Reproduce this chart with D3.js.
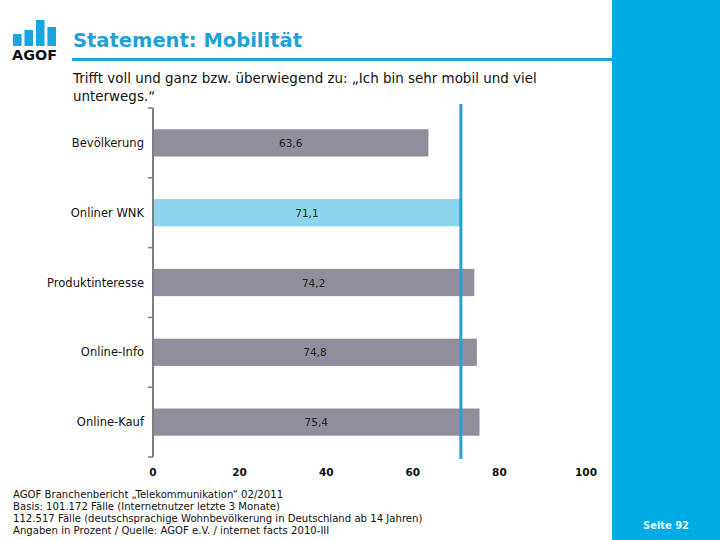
<!DOCTYPE html>
<html><head><meta charset="utf-8">
<script src="https://cdn.jsdelivr.net/npm/d3@7"></script>
<style>body{margin:0;background:#fff}svg{display:block}</style>
</head><body>
<script>
const categories = ["Bevölkerung","Onliner WNK","Produktinteresse","Online-Info","Online-Kauf"];
const values = [63.6, 71.1, 74.2, 74.8, 75.4];
const valueLabels = ["63,6","71,1","74,2","74,8","75,4"];
const highlight = "Onliner WNK";
const referenceValue = 71.1;
const xTicks = [0,20,40,60,80,100];
const logoBars = [12, 16, 26, 19];
const footerLines = [
  "AGOF Branchenbericht \u201ETelekommunikation\u201C 02/2011",
  "Basis: 101.172 F\u00e4lle (Internetnutzer letzte 3 Monate)",
  "112.517 F\u00e4lle (deutschsprachige Wohnbev\u00f6lkerung in Deutschland ab 14 Jahren)",
  "Angaben in Prozent /  Quelle: AGOF e.V. / internet facts 2010-III"
];

const W = 720, H = 540;
const svg = d3.select("body").append("svg").attr("width", W).attr("height", H);
const font = "DejaVu Sans, Verdana, sans-serif";
const blue = "#00aae2";

function fit(sel, target) {
  const w = sel.node().getComputedTextLength();
  const fs = parseFloat(sel.attr("font-size"));
  sel.attr("font-size", (fs * target / w).toFixed(2));
  return fs * target / w;
}

// right panel
svg.append("rect").attr("x", 612).attr("y", 0).attr("width", 108).attr("height", H).attr("fill", blue);
const seite = svg.append("text").attr("x", 666).attr("y", 529).attr("text-anchor", "middle")
  .attr("font-family", font).attr("font-weight", "bold").attr("font-size", 10).attr("fill", "#e8f8ff").text("Seite 92");
fit(seite, 46);

// logo
const lx = d3.scaleBand().domain(d3.range(logoBars.length)).range([13, 56]).paddingInner(0.25);
svg.append("g").selectAll("rect").data(logoBars).join("rect")
  .attr("x", (d, i) => lx(i)).attr("width", lx.bandwidth())
  .attr("y", d => 46 - d).attr("height", d => d).attr("fill", "#19a6dc");
const logoT = svg.append("text").attr("x", 12).attr("y", 60).attr("font-family", font).attr("font-weight", "bold")
  .attr("font-size", 13).attr("fill", "#111").text("AGOF");
fit(logoT, 45);

// title
const title = svg.append("text").attr("x", 73).attr("y", 47).attr("font-family", font).attr("font-weight", "bold")
  .attr("font-size", 18).attr("fill", "#1da1d6").text("Statement: Mobilit\u00e4t");
fit(title, 229);
svg.append("rect").attr("x", 72).attr("y", 58).attr("width", 540).attr("height", 3).attr("fill", "#1da1d6");

// subtitle
const sub1 = svg.append("text").attr("x", 73).attr("y", 83).attr("font-family", font).attr("font-size", 13).attr("fill", "#111")
  .text("Trifft voll und ganz bzw. \u00fcberwiegend zu: \u201EIch bin sehr mobil und viel");
const sfs = fit(sub1, 464);
svg.append("text").attr("x", 73).attr("y", 101).attr("font-family", font).attr("font-size", sfs).attr("fill", "#111")
  .text("unterwegs.\u201C");

// chart
const x = d3.scaleLinear().domain([0, 100]).range([153, 586]);
const y = d3.scaleBand().domain(categories).range([108, 457]).paddingInner(0.61).paddingOuter(0.305);

svg.append("g").selectAll("rect").data(categories).join("rect")
  .attr("x", x(0)).attr("y", d => y(d)).attr("height", y.bandwidth())
  .attr("width", (d, i) => x(values[i]) - x(0))
  .attr("fill", d => d === highlight ? "#8dd4ed" : "#8f8e9d");

svg.append("g").selectAll("text").data(categories).join("text")
  .attr("x", (d, i) => (x(0) + x(values[i])) / 2).attr("y", d => y(d) + y.bandwidth() / 2 + 4)
  .attr("text-anchor", "middle").attr("font-family", font).attr("font-size", 10.5).attr("fill", "#222")
  .text((d, i) => valueLabels[i]);

// category labels
const cats = svg.append("g").selectAll("text").data(categories).join("text")
  .attr("x", 144).attr("y", d => y(d) + y.bandwidth() / 2 + 4)
  .attr("text-anchor", "end").attr("font-family", font).attr("font-size", 12).attr("fill", "#111").text(d => d);
const pNode = cats.filter(d => d === "Produktinteresse");
const cfs = 12 * 97 / pNode.node().getComputedTextLength();
cats.attr("font-size", cfs.toFixed(2));

// y axis line + ticks at band boundaries
const r0 = y.range()[0], step = y.step();
svg.append("line").attr("x1", x(0)).attr("x2", x(0)).attr("y1", r0).attr("y2", r0 + step * categories.length)
  .attr("stroke", "#7f7f7f").attr("stroke-width", 2);
svg.append("g").selectAll("line").data(d3.range(categories.length + 1)).join("line")
  .attr("x1", x(0) - 5).attr("x2", x(0)).attr("y1", i => r0 + i * step).attr("y2", i => r0 + i * step)
  .attr("stroke", "#7f7f7f").attr("stroke-width", 1.5);

// reference line
svg.append("line").attr("x1", x(referenceValue)).attr("x2", x(referenceValue)).attr("y1", 104).attr("y2", 459)
  .attr("stroke", "#1ea5d8").attr("stroke-width", 3);

// x tick labels
svg.append("g").selectAll("text").data(xTicks).join("text")
  .attr("x", d => x(d)).attr("y", 476).attr("text-anchor", "middle")
  .attr("font-family", font).attr("font-weight", "bold").attr("font-size", 10.5).attr("fill", "#111").text(d => d);

// footer
const foot = svg.append("g").selectAll("text").data(footerLines).join("text")
  .attr("x", 13).attr("y", (d, i) => 498 + i * 12).attr("font-family", font).attr("font-size", 10).attr("fill", "#111").text(d => d);
const f3 = foot.filter((d, i) => i === 2);
const ffs = 10 * 410 / f3.node().getComputedTextLength();
foot.attr("font-size", ffs.toFixed(2));
</script>
</body></html>
